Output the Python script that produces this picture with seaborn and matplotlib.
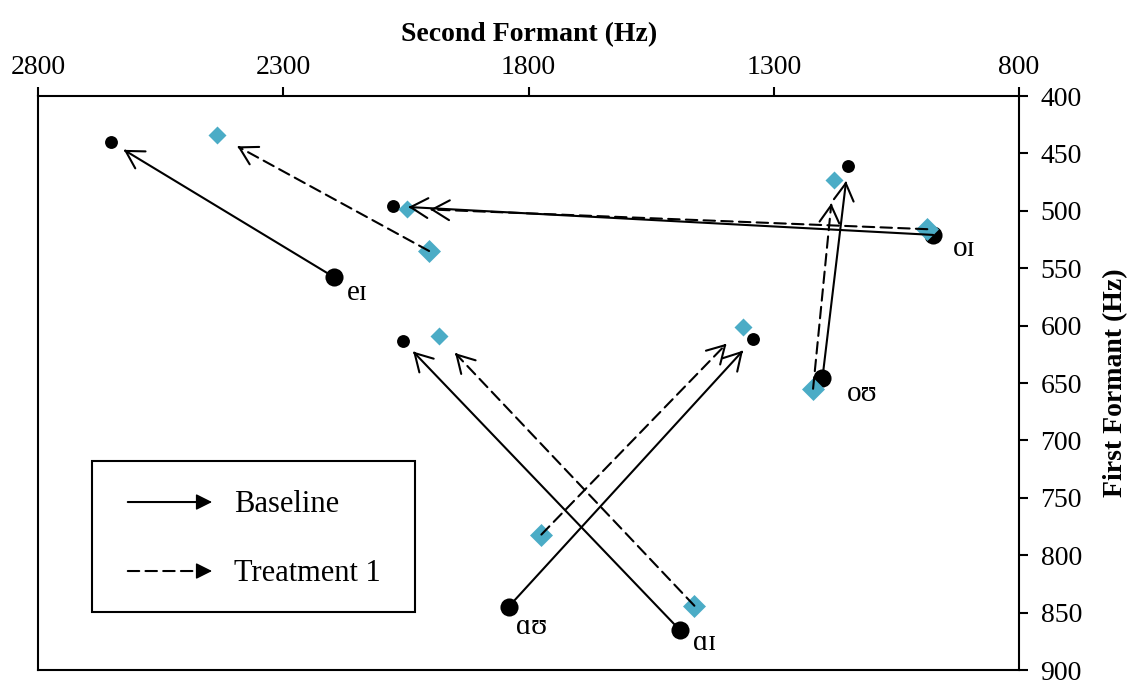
import numpy as np
import pandas as pd
import matplotlib
matplotlib.use('Agg')
import matplotlib.pyplot as plt
import seaborn as sns
from matplotlib.patches import Rectangle

# ---------------- data ----------------
vowels = ['eɪ', 'oɪ', 'oʊ', 'ɑʊ', 'ɑɪ']
series_names = ['Baseline', 'Treatment 1']

# Baseline: onset (large marker) -> offset (small marker)
base_f2_start = [2196, 975, 1201, 1841, 1492]
base_f1_start = [558, 521, 646, 845, 865]
base_f2_end = [2652, 2076, 1149, 1342, 2057]
base_f1_end = [440, 496, 461, 612, 613]

# Treatment 1
treat_f2_start = [2003, 987, 1220, 1774, 1462]
treat_f1_start = [535, 516, 655, 782, 844]
treat_f2_end = [2436, 2049, 1178, 1363, 1983]
treat_f1_end = [434, 498, 473, 601, 609]

x_ticks = [2800, 2300, 1800, 1300, 800]
y_ticks = [400, 450, 500, 550, 600, 650, 700, 750, 800, 850, 900]

# ---------------- style ----------------
TEAL = '#4BACC6'
label_offsets = [(16.5, -11.5), (22, -10), (29, -11), (16.5, -14.5), (18, -9.5)]

sns.set_style('white')
plt.rcParams['font.family'] = ['Liberation Serif', 'DejaVu Serif']
plt.rcParams['text.color'] = 'black'
plt.rcParams['axes.labelcolor'] = 'black'
plt.rcParams['xtick.color'] = 'black'
plt.rcParams['ytick.color'] = 'black'

fig = plt.figure(figsize=(11.28, 6.81), dpi=100)
ax = fig.add_axes([0.0339, 0.0161, 0.8695, 0.8429])

bs = pd.DataFrame({'F2': base_f2_start, 'F1': base_f1_start})
be = pd.DataFrame({'F2': base_f2_end, 'F1': base_f1_end})
ts = pd.DataFrame({'F2': treat_f2_start, 'F1': treat_f1_start})
te = pd.DataFrame({'F2': treat_f2_end, 'F1': treat_f1_end})

sns.scatterplot(data=bs, x='F2', y='F1', marker='o', s=170, color='black',
                linewidth=0, ax=ax, zorder=3)
sns.scatterplot(data=be, x='F2', y='F1', marker='o', s=86, color='black',
                linewidth=0, ax=ax, zorder=3)
sns.scatterplot(data=ts, x='F2', y='F1', marker='D', s=137, color=TEAL,
                linewidth=0, ax=ax, zorder=3)
sns.scatterplot(data=te, x='F2', y='F1', marker='D', s=84, color=TEAL,
                linewidth=0, ax=ax, zorder=3)

ax.set_xlim(2800, 800)
ax.set_ylim(900, 400)
ax.set_xticks(x_ticks)
ax.set_yticks(y_ticks)

ax.xaxis.tick_top()
ax.xaxis.set_label_position('top')
ax.yaxis.tick_right()
ax.yaxis.set_label_position('right')
ax.tick_params(axis='both', direction='out', length=6.5, width=1.5,
               labelsize=20, colors='black')
ax.tick_params(axis='x', pad=5)
ax.tick_params(axis='y', pad=9)
for sp in ax.spines.values():
    sp.set_visible(True)
    sp.set_linewidth(1.5)
    sp.set_color('black')

ax.set_xlabel('Second Formant (Hz)', fontsize=20, fontweight='bold', labelpad=10,
              color='black')
ax.set_ylabel('First Formant (Hz)', fontsize=20, fontweight='bold',
              rotation=90, labelpad=15, color='black')


def draw_arrow(x0, y0, x1, y1, ls, gap):
    p0 = ax.transData.transform((x0, y0))
    p1 = ax.transData.transform((x1, y1))
    d = p0 - p1
    d = d / np.hypot(*d)
    ax.annotate('', xy=(x1, y1), xytext=(x0, y0), xycoords='data',
                textcoords='data', zorder=4,
                arrowprops=dict(arrowstyle='-', lw=1.5, color='black',
                                linestyle=ls, shrinkA=0, shrinkB=gap + 1))
    back = gap + 2
    ax.annotate('', xy=(x1, y1), xytext=(d[0] * back, d[1] * back),
                textcoords='offset points', zorder=4,
                arrowprops=dict(arrowstyle='->,head_length=0.4,head_width=0.23',
                                mutation_scale=31, lw=1.5, color='black',
                                shrinkA=0, shrinkB=gap))


dash = (0, (5.5, 3))
for i in range(len(vowels)):
    draw_arrow(base_f2_start[i], base_f1_start[i], base_f2_end[i], base_f1_end[i], '-', 11)
    draw_arrow(treat_f2_start[i], treat_f1_start[i], treat_f2_end[i], treat_f1_end[i], dash, 17)

for i, v in enumerate(vowels):
    ax.annotate(v, xy=(base_f2_start[i], base_f1_start[i]), xytext=label_offsets[i],
                textcoords='offset points', ha='center', va='center', fontsize=21,
                color='black', zorder=5)

# ---------------- legend ----------------
ax.add_patch(Rectangle((0.0549, 0.101), 0.329, 0.263, transform=ax.transAxes,
                       facecolor='white', edgecolor='black', lw=1.5, zorder=5))
for name, ls, y in zip(series_names, ['-', dash], [0.2927, 0.1725]):
    ax.annotate('', xy=(0.1700, y), xytext=(0.0913, y), xycoords='axes fraction',
                textcoords='axes fraction', zorder=6,
                arrowprops=dict(arrowstyle='-', lw=1.5, color='black', linestyle=ls,
                                shrinkA=0, shrinkB=0))
    ax.annotate('', xy=(0.1772, y), xytext=(-11, 0), xycoords='axes fraction',
                textcoords='offset points', zorder=6,
                arrowprops=dict(arrowstyle='-|>,head_length=0.4,head_width=0.2',
                                mutation_scale=25, lw=1, color='black',
                                shrinkA=0, shrinkB=0))
    ax.annotate(name, xy=(0.1996, y), xycoords='axes fraction', xytext=(0, -2),
                textcoords='offset points', ha='left', va='center', fontsize=22,
                color='black', zorder=6)

fig.savefig('out.png', dpi=100)
